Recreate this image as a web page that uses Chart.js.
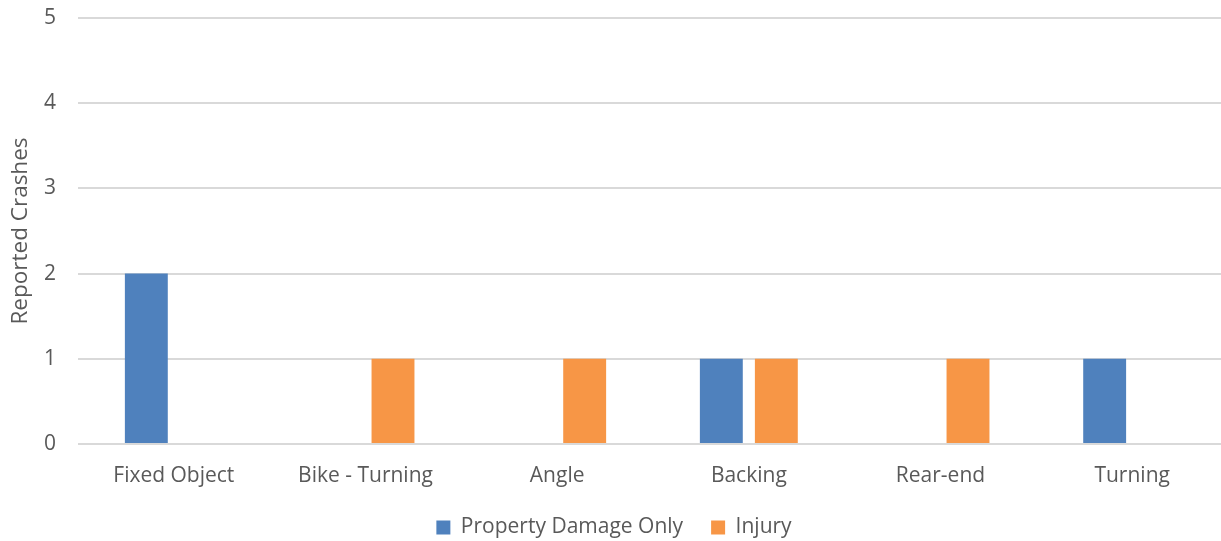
<!DOCTYPE html>
<html>
<head>
<meta charset="utf-8">
<script src="https://cdn.jsdelivr.net/npm/chart.js@4"></script>
<style>
  html, body { margin: 0; padding: 0; background: #fff; overflow: hidden; }
  #wrap { width: 1228px; height: 548px; position: relative; }
</style>
</head>
<body>
<div id="wrap"><canvas id="crashChart"></canvas></div>
<script>
// --- crash types and counts ---
const categories = ['Fixed Object', 'Bike - Turning', 'Angle', 'Backing', 'Rear-end', 'Turning'];
const propertyDamage = [2, 0, 0, 1, 0, 1];
const injury = [0, 1, 1, 1, 1, 0];
const yTicks = [0, 1, 2, 3, 4, 5];

const TEXT = '#595959';
const GRID = '#d9d9d9';
const FONT = '"Open Sans", Lato, sans-serif';

Chart.defaults.font.family = FONT;
Chart.defaults.font.size = 21;
Chart.defaults.color = TEXT;

const ctx = document.getElementById('crashChart');
new Chart(ctx, {
  type: 'bar',
  data: {
    labels: categories,
    datasets: [
      { label: 'Property Damage Only', data: propertyDamage, backgroundColor: '#4f81bd' },
      { label: 'Injury', data: injury, backgroundColor: '#f79646' }
    ]
  },
  options: {
    responsive: true,
    maintainAspectRatio: false,
    animation: false,
    categoryPercentage: 0.574,
    barPercentage: 0.78,
    layout: { padding: { top: 18, right: 0, left: 0, bottom: 0 } },
    plugins: {
      legend: {
        position: 'bottom',
        labels: { boxWidth: 14, boxHeight: 14, padding: 28, font: { size: 21 }, color: TEXT }
      },
      tooltip: { enabled: false }
    },
    scales: {
      x: {
        grid: { display: false, drawTicks: false },
        border: { display: false },
        ticks: { padding: 19, color: TEXT },
        afterFit: s => { s.height = 45; s.paddingLeft = 0; s.paddingRight = 0; }
      },
      y: {
        min: 0,
        max: 5,
        afterBuildTicks: s => { s.ticks = yTicks.map(v => ({ value: v })); },
        grid: { color: GRID, lineWidth: 2, drawTicks: false },
        border: { display: false },
        ticks: { padding: 22, color: TEXT },
        title: { display: true, text: 'Reported Crashes', font: { size: 22.5 }, color: TEXT, padding: { top: 7, bottom: 0 } },
        afterFit: s => { s.width = 78; s.paddingTop = 0; s.paddingBottom = 0; }
      }
    }
  }
});
</script>
</body>
</html>
